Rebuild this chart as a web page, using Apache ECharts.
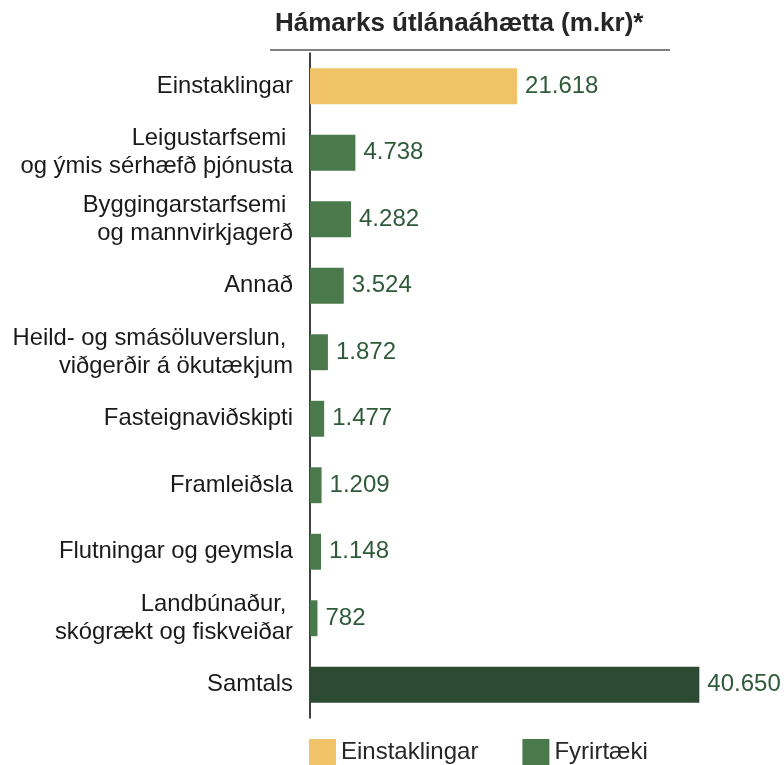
<!DOCTYPE html>
<html lang="is">
<head>
    <meta charset="UTF-8">
    <title>Hámarks útlánaáhætta</title>
    <script src="https://cdn.jsdelivr.net/npm/echarts@6/dist/echarts.min.js"></script>
    <style>
        html, body { margin: 0; padding: 0; background: #fff; }
        #chart { width: 784px; height: 765px; }
    </style>
</head>
<body>
    <div id="chart"></div>
    <script>
        // gögn
        const categories = [
            'Einstaklingar',
            'Leigustarfsemi \nog ýmis sérhæfð þjónusta',
            'Byggingarstarfsemi \nog mannvirkjagerð',
            'Annað',
            'Heild- og smásöluverslun, \nviðgerðir á ökutækjum',
            'Fasteignaviðskipti',
            'Framleiðsla',
            'Flutningar og geymsla',
            'Landbúnaður, \nskógrækt og fiskveiðar',
            'Samtals'
        ];
        const individuals = [21618, null, null, null, null, null, null, null, null, null];
        const companies = [null, 4738, 4282, 3524, 1872, 1477, 1209, 1148, 782, null];
        const total = [null, null, null, null, null, null, null, null, null, 40650];

        const fmt = v => String(v).replace(/\B(?=(\d{3})+(?!\d))/g, '.');
        const font = 'Liberation Sans, Arial, sans-serif';

        const chart = echarts.init(document.getElementById('chart'));

        const labelStyle = {
            show: true,
            position: 'right',
            distance: 8,
            color: '#2f5a3a',
            fontSize: 24,
            fontFamily: font,
            formatter: p => fmt(p.value)
        };

        chart.setOption({
            animation: false,
            textStyle: { fontFamily: font },
            title: {
                text: '{b|Hámarks útlánaáhætta (m.kr}{n|)*}',
                left: 270,
                top: 6,
                textStyle: {
                    rich: {
                        b: { fontSize: 26, fontWeight: 'bold', color: '#262626', fontFamily: font },
                        n: { fontSize: 26, color: '#262626', fontFamily: font }
                    }
                }
            },
            graphic: [{
                type: 'line',
                shape: { x1: 270, y1: 50, x2: 670, y2: 50 },
                style: { stroke: '#808080', lineWidth: 2 }
            }],
            legend: {
                left: 304,
                top: 734,
                itemWidth: 27,
                itemHeight: 27,
                itemGap: 44,
                icon: 'rect',
                data: ['Einstaklingar', 'Fyrirtæki'],
                textStyle: { fontSize: 24, color: '#262626' }
            },
            grid: { left: 310, right: 43, top: 53, bottom: 47 },
            xAxis: {
                type: 'value',
                min: 0,
                max: 45000,
                show: false
            },
            yAxis: {
                type: 'category',
                inverse: true,
                data: categories,
                axisLine: { lineStyle: { color: '#000', width: 1.5 } },
                axisTick: { show: false },
                axisLabel: {
                    color: '#1a1a1a',
                    fontSize: 23.8,
                    lineHeight: 28,
                    margin: 17,
                    align: 'right'
                }
            },
            series: [
                {
                    name: 'Einstaklingar',
                    type: 'bar',
                    stack: 'a',
                    barWidth: '54%',
                    data: individuals,
                    itemStyle: { color: '#f0c368' },
                    label: labelStyle
                },
                {
                    name: 'Fyrirtæki',
                    type: 'bar',
                    stack: 'a',
                    data: companies,
                    itemStyle: { color: '#4a7a4c' },
                    label: labelStyle
                },
                {
                    name: 'Samtals',
                    type: 'bar',
                    stack: 'a',
                    data: total,
                    itemStyle: { color: '#2d4a33' },
                    label: labelStyle
                }
            ]
        });
    </script>
</body>
</html>
